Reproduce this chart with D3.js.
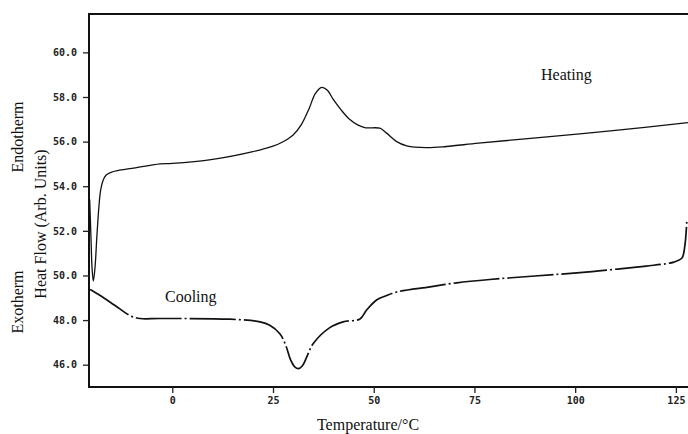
<!DOCTYPE html>
<html>
<head>
<meta charset="utf-8">
<script src="https://cdn.jsdelivr.net/npm/d3@7"></script>
<style>
  body { margin: 0; background: #fff; }
  svg { display: block; }
  .tick-lbl { font-family: "DejaVu Sans Mono", monospace; font-size: 10px; font-weight: bold; fill: #222; }
  .ser { font-family: "Liberation Serif", "Times New Roman", serif; fill: #111; }
</style>
</head>
<body>
<svg id="chart" width="688" height="434"></svg>
<script>
// heating trace (temperature, heat flow)
var heatT = [-20.5, -20.2, -19.9, -19.6, -19.2, -18.7, -18.2, -17.8, -17.2, -16.4, -15.2, -13.5, -10, -3, 0, 10, 20, 25, 27, 30, 32, 34, 35.5, 37.1, 38.5, 40, 42, 44, 46, 48, 51.5, 53.2, 55.7, 58.2, 63, 68, 76, 91, 110, 128];
var heatV = [53.4, 51.8, 50.3, 49.75, 50.3, 51.8, 53.1, 53.8, 54.25, 54.5, 54.62, 54.7, 54.8, 55.0, 55.02, 55.2, 55.55, 55.8, 55.95, 56.3, 56.75, 57.5, 58.15, 58.43, 58.3, 57.88, 57.4, 57.0, 56.75, 56.62, 56.6, 56.38, 56.0, 55.81, 55.73, 55.78, 55.93, 56.18, 56.5, 56.85];

// cooling trace
var coolT = [-20.4, -17.9, -15.4, -13, -10.5, -8, -3, 14.3, 21.8, 24.2, 26.7, 28.2, 29.4, 30.4, 31.3, 32.3, 33.5, 35.0, 39.1, 42.4, 46.6, 48.2, 50.7, 53.2, 55.7, 64, 70.6, 78.8, 101.2, 109.4, 117.6, 124.5, 126.5, 127.2, 127.7];
var coolV = [49.37, 49.1, 48.8, 48.5, 48.2, 48.07, 48.07, 48.04, 47.92, 47.77, 47.39, 46.85, 46.2, 45.9, 45.82, 45.95, 46.4, 46.95, 47.66, 47.92, 48.05, 48.44, 48.9, 49.1, 49.26, 49.49, 49.67, 49.82, 50.13, 50.27, 50.42, 50.6, 50.78, 51.3, 52.4];

var xTicks = [0, 25, 50, 75, 100, 125];
var yTicks = [46, 48, 50, 52, 54, 56, 58, 60];

var svg = d3.select("#chart");
var m = { left: 89, right: 690, top: 14, bottom: 387 };

var x = d3.scaleLinear().domain([-20.67, 128.5]).range([m.left, m.right]);
var y = d3.scaleLinear().domain([45, 61.72]).range([m.bottom, m.top]);

// frame
svg.append("path")
  .attr("d", "M" + m.right + "," + m.top + "H" + m.left + "V" + m.bottom + "H" + m.right)
  .attr("fill", "none").attr("stroke", "#111").attr("stroke-width", 2);

// axes
var xAxis = svg.append("g").attr("transform", "translate(0," + m.bottom + ")")
  .call(d3.axisBottom(x).tickValues(xTicks).tickSize(6).tickPadding(4).tickFormat(d3.format("d")));
xAxis.select(".domain").remove();
xAxis.selectAll("line").attr("stroke", "#222").attr("stroke-width", 1.3);
xAxis.selectAll("text").attr("class", "tick-lbl").attr("font-family", null).attr("font-size", null).attr("fill", null);

var yAxis = svg.append("g").attr("transform", "translate(" + m.left + ",0)")
  .call(d3.axisLeft(y).tickValues(yTicks).tickSize(6).tickPadding(6).tickFormat(d3.format(".1f")));
yAxis.select(".domain").remove();
yAxis.selectAll("line").attr("stroke", "#222").attr("stroke-width", 1.3);
yAxis.selectAll("text").attr("class", "tick-lbl").attr("font-family", null).attr("font-size", null).attr("fill", null);

// curves
var line = d3.line()
  .x(function(d) { return x(d[0]); })
  .y(function(d) { return y(d[1]); })
  .curve(d3.curveCatmullRom.alpha(0.5));

svg.append("path")
  .datum(d3.zip(heatT, heatV))
  .attr("d", line)
  .attr("fill", "none").attr("stroke", "#111").attr("stroke-width", 1.3);

svg.append("path")
  .datum(d3.zip(coolT, coolV))
  .attr("d", line)
  .attr("fill", "none").attr("stroke", "#111").attr("stroke-width", 1.7)
  .attr("stroke-dasharray", "46,3,2,3");

// labels
svg.append("text").attr("class", "ser").attr("font-size", 16)
  .attr("x", 541).attr("y", 80).text("Heating");
svg.append("text").attr("class", "ser").attr("font-size", 16)
  .attr("x", 165).attr("y", 302).text("Cooling");

svg.append("text").attr("class", "ser").attr("font-size", 16)
  .attr("text-anchor", "middle").attr("x", 368).attr("y", 430).text("Temperature/°C");

function vlabel(txt, cx, cy) {
  svg.append("text").attr("class", "ser").attr("font-size", 16)
    .attr("text-anchor", "middle")
    .attr("transform", "translate(" + cx + "," + cy + ") rotate(-90)")
    .text(txt);
}
vlabel("Endotherm", 23, 137);
vlabel("Heat Flow (Arb. Units)", 46, 224);
vlabel("Exotherm", 23, 302);
</script>
</body>
</html>
